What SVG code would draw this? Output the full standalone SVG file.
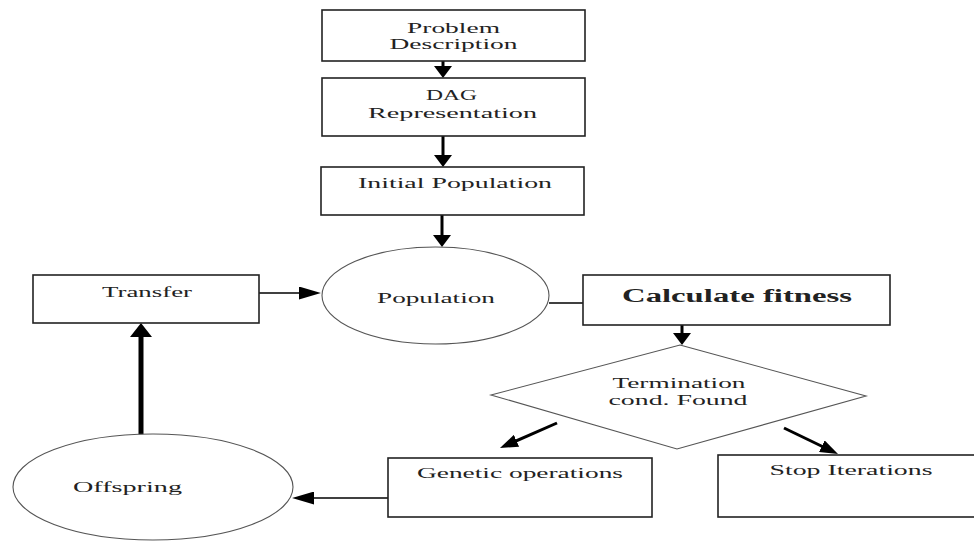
<svg xmlns="http://www.w3.org/2000/svg" width="974" height="542" viewBox="0 0 974 542">
<style>
  .box { fill: #ffffff; stroke: #222; stroke-width: 1.6; }
  .ell { fill: #ffffff; stroke: #555; stroke-width: 1.1; }
  .t { font-family: "Liberation Serif", "Times New Roman", serif; font-size: 15px; fill: #222; text-anchor: middle; }
  .tb { font-family: "Liberation Serif", "Times New Roman", serif; font-size: 18px; font-weight: bold; fill: #222; text-anchor: middle; }
  .c { stroke: #000; fill: none; }
</style>
<defs>
  <marker id="mA" viewBox="0 0 10 10" refX="5" refY="5" markerWidth="12" markerHeight="18" markerUnits="userSpaceOnUse" orient="auto" preserveAspectRatio="none"><path d="M0,0 L10,5 L0,10 z" fill="#000"/></marker>
  <marker id="mB" viewBox="0 0 10 10" refX="6.4" refY="5" markerWidth="22" markerHeight="13" markerUnits="userSpaceOnUse" orient="auto" preserveAspectRatio="none"><path d="M0,0 L10,5 L0,10 z" fill="#000"/></marker>
  <marker id="mC" viewBox="0 0 10 10" refX="5" refY="5" markerWidth="14" markerHeight="22" markerUnits="userSpaceOnUse" orient="auto" preserveAspectRatio="none"><path d="M0,0 L10,5 L0,10 z" fill="#000"/></marker>
  <marker id="mD" viewBox="0 0 10 10" refX="6.1" refY="5" markerWidth="18" markerHeight="13" markerUnits="userSpaceOnUse" orient="auto" preserveAspectRatio="none"><path d="M0,0 L10,5 L0,10 z" fill="#000"/></marker>
</defs>

<g id="connectors">
  <line class="c" x1="443" y1="61" x2="443" y2="72" stroke-width="3" marker-end="url(#mA)"/>
  <line class="c" x1="443" y1="136" x2="443" y2="161" stroke-width="3" marker-end="url(#mA)"/>
  <line class="c" x1="442" y1="215" x2="442" y2="241" stroke-width="3" marker-end="url(#mA)"/>
  <line class="c" x1="259" y1="293" x2="313" y2="293" stroke-width="1.6" marker-end="url(#mB)"/>
  <line class="c" x1="549" y1="303" x2="583" y2="303" stroke-width="1.6"/>
  <line class="c" x1="682" y1="325" x2="682" y2="339" stroke-width="3" marker-end="url(#mA)"/>
  <line class="c" x1="557" y1="423" x2="506.4" y2="445.2" stroke-width="3" marker-end="url(#mD)"/>
  <line class="c" x1="784" y1="428" x2="831.7" y2="451" stroke-width="3" marker-end="url(#mD)"/>
  <line class="c" x1="388" y1="498" x2="300" y2="498" stroke-width="1.6" marker-end="url(#mB)"/>
  <line class="c" x1="141" y1="448" x2="141" y2="330" stroke-width="5" marker-end="url(#mC)"/>
</g>

<g id="problem">
  <rect class="box" x="322" y="10" width="263" height="51"/>
  <text class="t" x="453.5" y="33" textLength="93" lengthAdjust="spacingAndGlyphs">Problem</text>
  <text class="t" x="453.5" y="49" textLength="128" lengthAdjust="spacingAndGlyphs">Description</text>
</g>

<g id="dag">
  <rect class="box" x="322" y="78" width="263" height="58"/>
  <text class="t" x="451.5" y="100" textLength="51" lengthAdjust="spacingAndGlyphs">DAG</text>
  <text class="t" x="452.5" y="118" textLength="169" lengthAdjust="spacingAndGlyphs">Representation</text>
</g>

<g id="initial">
  <rect class="box" x="321" y="167" width="263" height="48"/>
  <text class="t" x="455" y="188" textLength="194" lengthAdjust="spacingAndGlyphs">Initial Population</text>
</g>

<g id="population">
  <ellipse class="ell" cx="435.5" cy="295.5" rx="113.5" ry="48.5"/>
  <text class="t" x="436" y="303" textLength="118" lengthAdjust="spacingAndGlyphs">Population</text>
</g>

<g id="transfer">
  <rect class="box" x="33" y="275" width="226" height="48"/>
  <text class="t" x="147" y="297" textLength="90" lengthAdjust="spacingAndGlyphs">Transfer</text>
</g>

<g id="calculate">
  <rect class="box" x="583" y="275" width="307" height="50"/>
  <text class="tb" x="737" y="302" textLength="230" lengthAdjust="spacingAndGlyphs">Calculate fitness</text>
</g>

<g id="termination">
  <polygon class="ell" points="680,345 866,396 677,449 491,395"/>
  <text class="t" x="679" y="388" textLength="133" lengthAdjust="spacingAndGlyphs">Termination</text>
  <text class="t" x="678" y="405" textLength="139" lengthAdjust="spacingAndGlyphs">cond. Found</text>
</g>

<g id="genetic">
  <rect class="box" x="388" y="458" width="264" height="59"/>
  <text class="t" x="520" y="478" textLength="206" lengthAdjust="spacingAndGlyphs">Genetic operations</text>
</g>

<g id="stop">
  <rect class="box" x="718" y="455" width="267" height="62"/>
  <text class="t" x="851" y="475" textLength="163" lengthAdjust="spacingAndGlyphs">Stop Iterations</text>
</g>

<g id="offspring">
  <ellipse class="ell" cx="153" cy="487" rx="140" ry="53"/>
  <text class="t" x="127.5" y="492" textLength="109" lengthAdjust="spacingAndGlyphs">Offspring</text>
</g>
</svg>
